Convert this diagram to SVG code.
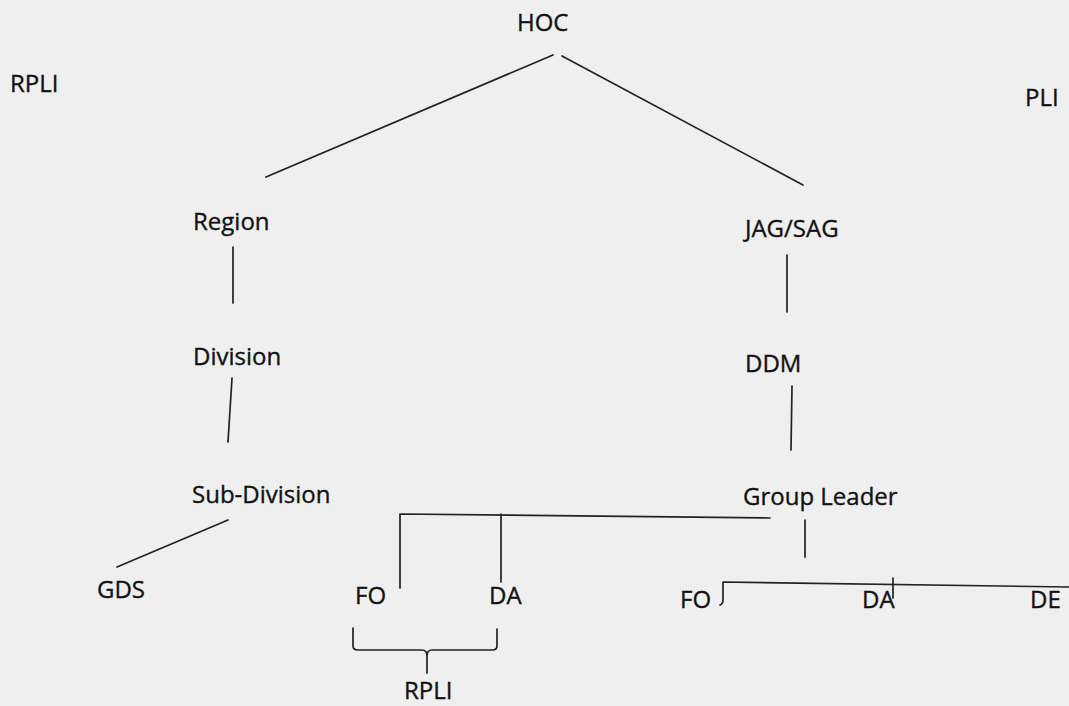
<svg xmlns="http://www.w3.org/2000/svg" width="1069" height="706" viewBox="0 0 1069 706">
<style>
  .lbl { font-family: "Open Sans", "Liberation Sans", sans-serif; font-size: 24px; fill: #121212; stroke: #121212; stroke-width: 0.35px; }
  .ln { stroke: #222222; stroke-width: 1.7; fill: none; stroke-linecap: round; stroke-linejoin: round; }
</style>
<rect x="0" y="0" width="1069" height="706" fill="#efefef"/>
<g id="connectors">
  <line class="ln" x1="553" y1="55" x2="266" y2="177"/>
  <line class="ln" x1="562" y1="56" x2="803" y2="185"/>
  <line class="ln" x1="233" y1="247" x2="233" y2="303"/>
  <line class="ln" x1="232" y1="378" x2="228" y2="442"/>
  <line class="ln" x1="228" y1="520" x2="117" y2="567"/>
  <line class="ln" x1="787" y1="255" x2="787" y2="312"/>
  <line class="ln" x1="792" y1="386" x2="791" y2="450"/>
  <polyline class="ln" points="400,588 400,514 770,518"/>
  <line class="ln" x1="501" y1="514" x2="501" y2="582"/>
  <line class="ln" x1="805" y1="520" x2="805" y2="557"/>
  <path class="ln" d="M720,605 Q723,604 723,600 L723,582 L1069,587"/>
  <line class="ln" x1="893" y1="578" x2="893" y2="598"/>
  <path class="ln" d="M353,628 L353,646 Q353,650 358,650 L422,650 Q427,650 427,656 L427,673 M427,656 Q427,650 432,650 L492,650 Q497,650 497,646 L497,629"/>
</g>
<g id="node-hoc"><text class="lbl" x="517" y="31">HOC</text></g>
<g id="node-rpli-top"><text class="lbl" x="10" y="92">RPLI</text></g>
<g id="node-pli"><text class="lbl" x="1025" y="106">PLI</text></g>
<g id="node-region"><text class="lbl" x="193" y="230">Region</text></g>
<g id="node-division"><text class="lbl" x="193" y="365">Division</text></g>
<g id="node-subdivision"><text class="lbl" x="192" y="503">Sub-Division</text></g>
<g id="node-gds"><text class="lbl" x="97" y="598">GDS</text></g>
<g id="node-jagsag"><text class="lbl" x="745" y="237">JAG/SAG</text></g>
<g id="node-ddm"><text class="lbl" x="745" y="372">DDM</text></g>
<g id="node-groupleader"><text class="lbl" x="743" y="505">Group Leader</text></g>
<g id="node-fo1"><text class="lbl" x="355" y="604">FO</text></g>
<g id="node-da1"><text class="lbl" x="489" y="604">DA</text></g>
<g id="node-fo2"><text class="lbl" x="680" y="608">FO</text></g>
<g id="node-da2"><text class="lbl" x="862" y="608">DA</text></g>
<g id="node-de"><text class="lbl" x="1030" y="608">DE</text></g>
<g id="node-rpli-bottom"><text class="lbl" x="404" y="699">RPLI</text></g>
</svg>
